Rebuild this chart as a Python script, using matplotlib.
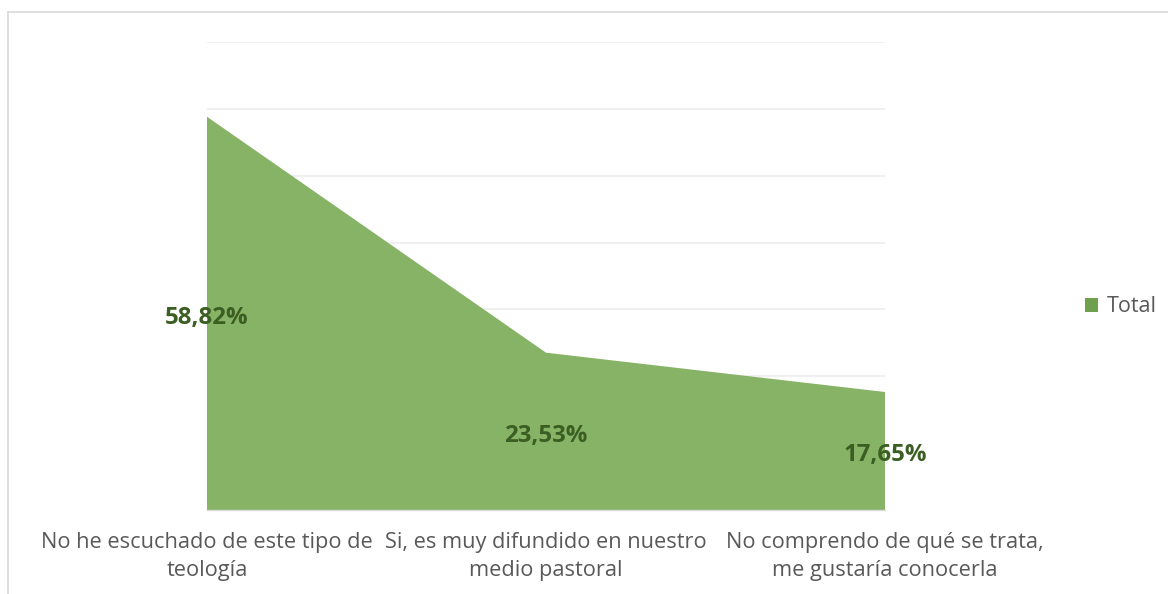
import matplotlib
matplotlib.use("Agg")
import matplotlib.pyplot as plt
from matplotlib.lines import Line2D
from matplotlib.patches import Patch

categories = ["No he escuchado de este tipo de\nteología",
              "Si, es muy difundido en nuestro\nmedio pastoral",
              "No comprendo de qué se trata,\nme gustaría conocerla"]
values = [58.82, 23.53, 17.65]
labels = ["58,82%", "23,53%", "17,65%"]
series_name = "Total"

plt.rcParams['font.family'] = ['Open Sans', 'DejaVu Sans']

W, H = 1168, 594
fig = plt.figure(figsize=(W / 100, H / 100), dpi=100)
ax = fig.add_axes([207 / W, 1 - 510 / H, (885 - 207) / W, (510 - 42) / H])

x = list(range(len(values)))
ax.fill_between(x, 0, values, color="#87B366", edgecolor="none", zorder=2)
ax.set_xlim(0, len(values) - 1)
ax.set_ylim(0, 70)
ax.set_yticks(range(0, 71, 10))
ax.yaxis.grid(True, color="#EFEFEF", linewidth=1.3, zorder=0)
ax.set_yticklabels([])
ax.tick_params(axis='y', length=0)
for s in ["top", "right", "left"]:
    ax.spines[s].set_visible(False)
ax.spines["bottom"].set_color("#D9D9D9")
ax.spines["bottom"].set_linewidth(1.0)
ax.set_xticks(x)
ax.set_xticklabels(categories, fontsize=15.7, color="#595959", linespacing=1.45)
ax.tick_params(axis='x', length=0, pad=16)

for xi, v, lab in zip(x, values, labels):
    ax.annotate(lab, (xi, v / 2), xytext=(0, -3), textcoords="offset points",
                ha="center", va="center", fontsize=17.3,
                fontweight="bold", color="#3B5E22", zorder=5)

handle = Patch(facecolor="#6FA04D", edgecolor="none")
fig.legend([handle], [series_name], loc="center left",
           bbox_to_anchor=(1066 / W, 1 - 307 / H), frameon=False,
           fontsize=15.5, labelcolor="#595959", handlelength=0.6,
           handleheight=0.6, handletextpad=0.4)

# chart frame (partially cropped)
fig.add_artist(Line2D([8 / W, 1], [1 - 12 / H, 1 - 12 / H], color="#D9D9D9",
                      linewidth=1.2, transform=fig.transFigure))
fig.add_artist(Line2D([8 / W, 8 / W], [0, 1 - 12 / H], color="#D9D9D9",
                      linewidth=1.2, transform=fig.transFigure))

fig.savefig("out.png", dpi=100, facecolor="white")
